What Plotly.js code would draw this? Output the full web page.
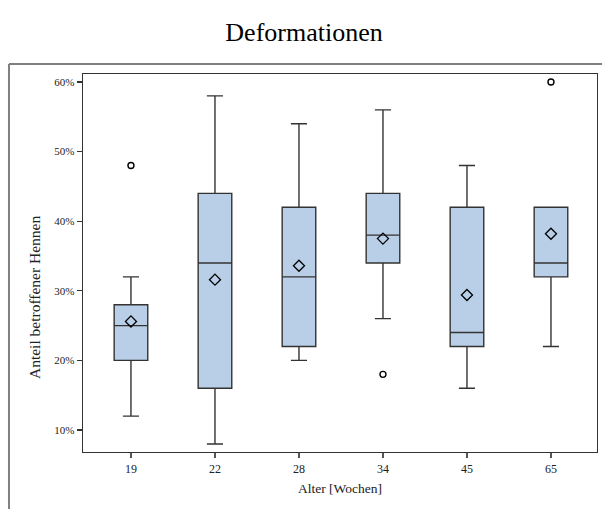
<!DOCTYPE html>
<html>
<head>
<meta charset="utf-8">
<script src="https://cdn.plot.ly/plotly-3.0.1.min.js"></script>
<style>
html,body{margin:0;padding:0;background:#fff;}
#chart{width:602px;height:509px;}
</style>
</head>
<body>
<div id="chart"></div>
<script>
// Data (percent of affected hens)
var ages = ['19', '22', '28', '34', '45', '65'];
var q1 = [20, 16, 22, 34, 22, 32];
var median = [25, 34, 32, 38, 24, 34];
var q3 = [28, 44, 42, 44, 42, 42];
var lowerWhisker = [12, 8, 20, 26, 16, 22];
var upperWhisker = [32, 58, 54, 56, 48, 42];
var means = [25.6, 31.6, 33.6, 37.5, 29.4, 38.2];
var outlierAges = ['19', '34', '65'];
var outlierValues = [48, 18, 60];
var yTickValues = [10, 20, 30, 40, 50, 60];
var yTickLabels = ['10%', '20%', '30%', '40%', '50%', '60%'];

var serif = 'Liberation Serif, Times New Roman, serif';

var traces = [
  {
    type: 'box',
    x: ages,
    q1: q1,
    median: median,
    q3: q3,
    lowerfence: lowerWhisker,
    upperfence: upperWhisker,
    boxpoints: false,
    width: 0.4,
    whiskerwidth: 0.48,
    fillcolor: '#b9cfe7',
    line: {color: '#333333', width: 1.4},
    hoverinfo: 'skip',
    showlegend: false
  },
  {
    type: 'scatter',
    mode: 'markers',
    x: ages,
    y: means,
    marker: {symbol: 'diamond-open', size: 8.5, color: '#000', line: {width: 1.3, color: '#000'}},
    hoverinfo: 'skip',
    showlegend: false
  },
  {
    type: 'scatter',
    mode: 'markers',
    x: outlierAges,
    y: outlierValues,
    marker: {symbol: 'circle-open', size: 6, color: '#000', line: {width: 1.4, color: '#000'}},
    hoverinfo: 'skip',
    showlegend: false
  }
];

var layout = {
  width: 602,
  height: 509,
  margin: {l: 83, r: 5, t: 74, b: 57},
  paper_bgcolor: '#fff',
  plot_bgcolor: '#fff',
  font: {family: serif, color: '#222'},
  title: {
    text: 'Deformationen',
    font: {family: serif, size: 26, color: '#000'},
    x: 0.505, xanchor: 'center',
    y: 0.937, yanchor: 'middle'
  },
  xaxis: {
    type: 'category',
    range: [-0.571, 5.548],
    showgrid: false,
    zeroline: false,
    showline: true, mirror: true,
    linecolor: '#333', linewidth: 1.4,
    ticks: 'outside', ticklen: 5, tickcolor: '#555', tickwidth: 1.2,
    tickfont: {family: serif, size: 12, color: '#222'},
    title: {text: 'Alter [Wochen]', font: {family: serif, size: 13.5, color: '#222'}, standoff: 8}
  },
  yaxis: {
    range: [6.84, 61.15],
    tickvals: yTickValues,
    ticktext: yTickLabels,
    showgrid: false,
    zeroline: false,
    showline: true, mirror: true,
    linecolor: '#333', linewidth: 1.4,
    ticks: 'outside', ticklen: 5, tickcolor: '#333', tickwidth: 1.2,
    tickfont: {family: serif, size: 11, color: '#222'}
  },
  annotations: [
    {
      text: 'Anteil betroffener Hennen',
      xref: 'paper', yref: 'paper',
      x: -0.0953, y: 0.41,
      xanchor: 'center', yanchor: 'middle',
      textangle: -90,
      showarrow: false,
      font: {family: serif, size: 15.5, color: '#222'}
    }
  ],
  shapes: [
    {type: 'line', xref: 'paper', yref: 'paper', x0: -0.144, x1: -0.144, y0: 1.0265, y1: -0.2, line: {color: '#808080', width: 2}},
    {type: 'line', xref: 'paper', yref: 'paper', x0: -0.144, x1: 1.02, y0: 1.0265, y1: 1.0265, line: {color: '#808080', width: 2}}
  ]
};

Plotly.newPlot('chart', traces, layout, {displayModeBar: false, staticPlot: true});
</script>
</body>
</html>
